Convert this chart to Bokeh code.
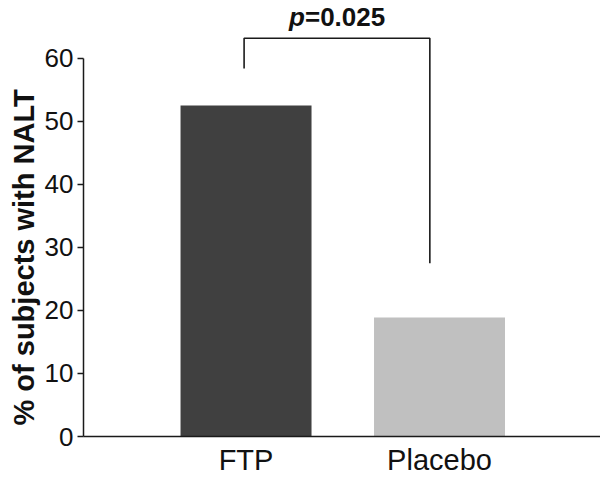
from bokeh.plotting import figure
from bokeh.models import Range1d, FixedTicker, ColumnDataSource, Title
from bokeh.core.properties import value
from bokeh.embed import file_html
from bokeh.resources import INLINE

categories = ["FTP", "Placebo"]
percent_nalt = [52.5, 18.9]
bar_colors = ["#404040", "#c0c0c0"]
y_ticks = [0, 10, 20, 30, 40, 50, 60]
y_label = "% of subjects with NALT"

# significance bracket (category index units / percent units)
bracket_x = [0.49, 0.49, 1.45, 1.45]
bracket_y = [58.4, 63.2, 63.2, 27.5]
p_label_x = 0.97
p_label_y = 66.6
p_value_text = "=0.025"

FONT = "Liberation Sans"
W, H = 600, 478

xs = [i + 0.5 for i in range(len(categories))]
src = ColumnDataSource(dict(x=xs, top=percent_nalt, color=bar_colors))

p = figure(width=W, height=H, output_backend="svg", toolbar_location=None,
           x_range=Range1d(-0.34, 2.332), y_range=Range1d(0, 69.18),
           min_border_left=83, min_border_right=0, min_border_top=0,
           min_border_bottom=41)
p.outline_line_color = None
p.xgrid.visible = False
p.ygrid.visible = False
p.background_fill_color = "white"
p.border_fill_color = "white"

p.vbar(x="x", top="top", width=0.677, color="color", source=src, line_color=None)

p.line(bracket_x, bracket_y, line_color="#1a1a1a", line_width=1.6)

p.text(x=[p_label_x], y=[p_label_y], text=["p"], text_font=value(FONT),
       text_font_size="26px", text_font_style="bold italic",
       text_align="right", text_baseline="middle", x_offset=-32, text_color="#111111")
p.text(x=[p_label_x], y=[p_label_y], text=[p_value_text], text_font=value(FONT),
       text_font_size="26px", text_font_style="bold",
       text_align="left", text_baseline="middle", x_offset=-32, text_color="#111111")

# y axis
ya = p.yaxis[0]
ya.ticker = FixedTicker(ticks=y_ticks)
ya.bounds = (0, 60)
ya.minor_tick_line_color = None
ya.major_tick_in = 0
ya.major_tick_out = 6
ya.major_tick_line_width = 1.5
ya.axis_line_width = 1.5
ya.axis_line_color = "#1a1a1a"
ya.major_tick_line_color = "#1a1a1a"
ya.major_label_text_font = FONT
ya.major_label_text_font_size = "26px"
ya.major_label_text_color = "#111111"
ya.major_label_standoff = 4

ytitle = Title(text=y_label, align="left", offset=11, vertical_align="top",
               text_font=FONT, text_font_size="29px", text_font_style="bold",
               text_color="#111111", standoff=0)
p.add_layout(ytitle, "left")

# x axis
xa = p.xaxis[0]
xa.ticker = FixedTicker(ticks=xs)
xa.major_label_overrides = {x: c for x, c in zip(xs, categories)}
xa.major_tick_line_color = None
xa.major_tick_in = 0
xa.major_tick_out = 0
xa.minor_tick_line_color = None
xa.axis_line_width = 1.5
xa.axis_line_color = "#1a1a1a"
xa.major_label_text_font = FONT
xa.major_label_text_font_size = "29px"
xa.major_label_text_color = "#111111"
xa.major_label_standoff = 7

open("out.html", "w").write(file_html(p, INLINE))
